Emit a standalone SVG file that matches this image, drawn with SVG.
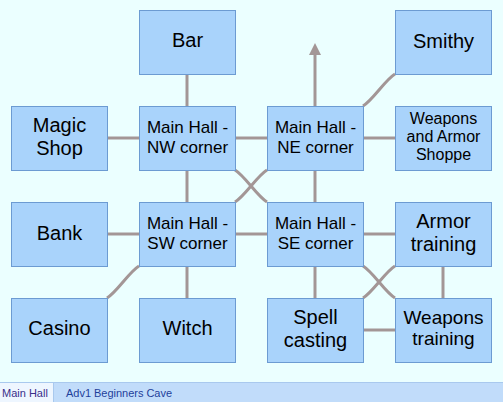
<svg xmlns="http://www.w3.org/2000/svg" width="503" height="402" viewBox="0 0 503 402">
<defs>
<style>
.n rect{fill:#a9d3fb;stroke:#6c9bd2;stroke-width:1}
.n text{font-family:"Liberation Sans",Arial,sans-serif;fill:#000;text-anchor:middle}
.b{font-size:20px}
.m{font-size:17px}
.c{fill:none;stroke:#a39696;stroke-width:3}
.tab{font-family:"Liberation Sans",Arial,sans-serif;font-size:11px}
</style>
</defs>
<rect width="503" height="402" fill="#ebffff"/>
<g id="connectors">
<line class="c" x1="187" y1="74" x2="187" y2="106"/>
<line class="c" x1="107" y1="138" x2="139" y2="138"/>
<line class="c" x1="235" y1="138" x2="267" y2="138"/>
<line class="c" x1="363" y1="138" x2="395" y2="138"/>
<line class="c" x1="187" y1="170" x2="187" y2="202"/>
<line class="c" x1="315" y1="170" x2="315" y2="202"/>
<line class="c" x1="107" y1="234" x2="139" y2="234"/>
<line class="c" x1="235" y1="234" x2="267" y2="234"/>
<line class="c" x1="363" y1="234" x2="395" y2="234"/>
<line class="c" x1="187" y1="266" x2="187" y2="298"/>
<line class="c" x1="315" y1="266" x2="315" y2="298"/>
<line class="c" x1="443" y1="266" x2="443" y2="298"/>
<line class="c" x1="363" y1="330" x2="395" y2="330"/>
<line class="c" x1="315" y1="106" x2="315" y2="54"/>
<path d="M315,43 L321,55 L309,55 Z" fill="#a39696"/>
<path class="c" d="M363,106 C373,100 385,80 395,74"/>
<path class="c" d="M235,170 C245,176 257,196 267,202"/>
<path class="c" d="M267,170 C257,176 245,196 235,202"/>
<path class="c" d="M139,266 C129,272 117,292 107,298"/>
<path class="c" d="M363,266 C373,272 385,292 395,298"/>
<path class="c" d="M395,266 C385,272 373,292 363,298"/>
</g>
<g id="bar" class="n"><rect x="139.5" y="10.5" width="96" height="64"/><text class="b" x="187.5" y="47">Bar</text></g>
<g id="smithy" class="n"><rect x="395.5" y="10.5" width="96" height="64"/><text class="b" x="443.5" y="48">Smithy</text></g>
<g id="magic" class="n"><rect x="11.5" y="106.5" width="96" height="64"/><text class="b" x="59.5" y="132">Magic</text><text class="b" x="59.5" y="154.5">Shop</text></g>
<g id="nw" class="n"><rect x="139.5" y="106.5" width="96" height="64"/><text class="m" x="187.5" y="133">Main Hall -</text><text class="m" x="187.5" y="152.5">NW corner</text></g>
<g id="ne" class="n"><rect x="267.5" y="106.5" width="96" height="64"/><text class="m" x="315.5" y="133">Main Hall -</text><text class="m" x="315.5" y="152.5">NE corner</text></g>
<g id="wa" class="n"><rect x="395.5" y="106.5" width="96" height="64"/><text style="font-size:16px" x="443.5" y="124">Weapons</text><text style="font-size:16px" x="443.5" y="142">and Armor</text><text style="font-size:16px" x="443.5" y="160">Shoppe</text></g>
<g id="bank" class="n"><rect x="11.5" y="202.5" width="96" height="64"/><text class="b" x="59.5" y="240">Bank</text></g>
<g id="sw" class="n"><rect x="139.5" y="202.5" width="96" height="64"/><text class="m" x="187.5" y="229">Main Hall -</text><text class="m" x="187.5" y="248.5">SW corner</text></g>
<g id="se" class="n"><rect x="267.5" y="202.5" width="96" height="64"/><text class="m" x="315.5" y="229">Main Hall -</text><text class="m" x="315.5" y="248.5">SE corner</text></g>
<g id="armor" class="n"><rect x="395.5" y="202.5" width="96" height="64"/><text class="b" x="443.5" y="228">Armor</text><text class="b" x="443.5" y="250.5">training</text></g>
<g id="casino" class="n"><rect x="11.5" y="298.5" width="96" height="64"/><text class="b" x="59.5" y="335">Casino</text></g>
<g id="witch" class="n"><rect x="139.5" y="298.5" width="96" height="64"/><text class="b" x="187.5" y="335">Witch</text></g>
<g id="spell" class="n"><rect x="267.5" y="298.5" width="96" height="64"/><text class="b" x="315.5" y="324">Spell</text><text class="b" x="315.5" y="346.5">casting</text></g>
<g id="wt" class="n"><rect x="395.5" y="298.5" width="96" height="64"/><text style="font-size:19px" x="443.5" y="324">Weapons</text><text style="font-size:19px" x="443.5" y="345">training</text></g>
<g id="tabs">
<rect x="0" y="382" width="503" height="20" fill="#c1dcfa"/>
<line x1="0" y1="382.5" x2="503" y2="382.5" stroke="#a9c9ee"/>
<rect x="0" y="383" width="53" height="19" fill="#eef6ff"/>
<line x1="53.5" y1="383" x2="53.5" y2="402" stroke="#a9c9ee"/>
<text class="tab" x="2" y="397" fill="#3a2f8a">Main Hall</text>
<text class="tab" x="66" y="397" fill="#1f3f9a" textLength="106">Adv1 Beginners Cave</text>
</g>
</svg>
